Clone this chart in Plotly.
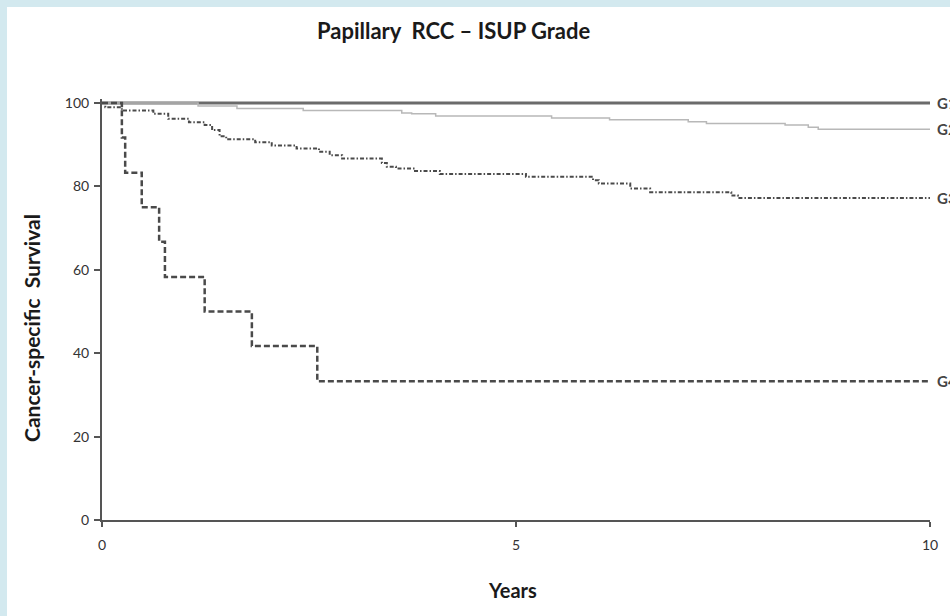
import plotly.graph_objects as go

# ---- data ----
g1_years = [0, 10]
g1_surv = [100, 100]

g2_years = [0, 1.16, 1.63, 2.43, 3.62, 3.74, 4.03, 5.43, 6.13, 7.08, 7.30, 8.25, 8.53, 8.65, 10]
g2_surv = [100, 99.3, 98.7, 98.2, 97.6, 97.4, 96.9, 96.4, 96.0, 95.5, 95.1, 94.7, 94.2, 93.7, 93.7]

g3_years = [0, 0.04, 0.24, 0.62, 0.80, 1.05, 1.24, 1.33, 1.42, 1.50, 1.85, 2.05, 2.35, 2.62,
            2.75, 2.90, 3.38, 3.44, 3.55, 3.78, 4.08, 5.12, 5.93, 6.00, 6.38, 6.62, 7.60, 7.68, 10]
g3_surv = [100, 99.0, 98.2, 97.4, 96.2, 95.4, 94.7, 93.5, 92.0, 91.3, 90.6, 89.8, 89.1, 88.3,
           87.5, 86.7, 85.6, 84.7, 84.3, 83.7, 83.0, 82.3, 81.5, 80.7, 79.5, 78.6, 77.8, 77.2, 77.2]

g4_years = [0, 0.24, 0.28, 0.48, 0.69, 0.76, 1.24, 1.81, 2.60, 10]
g4_surv = [100, 91.7, 83.3, 75.0, 66.7, 58.3, 50.0, 41.7, 33.3, 33.3]

group_labels = ["G1", "G2", "G3", "G4"]
x_ticks = [0, 5, 10]
y_ticks = [0, 20, 40, 60, 80, 100]

# ---- layout geometry (pixels) ----
W, H = 950, 616
L, R, T, B = 102, 20, 99, 96
PW, PH = W - L - R, H - T - B


def px_x(px):
    return (px - L) / PW


def px_y(py):
    return (H - B - py) / PH


FONT = "Lato"
fig = go.Figure()

series = [
    (g1_years, g1_surv, dict(color="#6b6b6b", width=3, dash="solid")),
    (g2_years, g2_surv, dict(color="#b8b8b8", width=1.5, dash="solid")),
    (g3_years, g3_surv, dict(color="#4a4a4a", width=2, dash="4px,2px,1.5px,2px")),
    (g4_years, g4_surv, dict(color="#4a4a4a", width=2.5, dash="6px,3px")),
]
for (xs, ys, ln), name in zip(series, group_labels):
    fig.add_trace(go.Scatter(x=xs, y=ys, mode="lines", line_shape="hv",
                             line=ln, name=name, showlegend=False, hoverinfo="skip"))
    fig.add_annotation(x=xs[-1], y=ys[-1], xref="x", yref="y", text="<b>" + name + "</b>",
                       showarrow=False, xanchor="left", yanchor="middle", xshift=5,
                       font=dict(family=FONT, size=15, color="#454545"))

# light blue frame on top and left
BAND = "#d3e9ef"
fig.add_shape(type="rect", xref="paper", yref="paper", layer="below",
              x0=px_x(0), x1=px_x(W), y0=px_y(0), y1=px_y(7),
              fillcolor=BAND, line=dict(width=0))
fig.add_shape(type="rect", xref="paper", yref="paper", layer="below",
              x0=px_x(0), x1=px_x(7), y0=px_y(0), y1=px_y(H),
              fillcolor=BAND, line=dict(width=0))

fig.add_annotation(x=px_x(454), y=px_y(31), xref="paper", yref="paper",
                   xanchor="center", yanchor="middle",
                   text="<b>Papillary  RCC – ISUP Grade</b>", showarrow=False,
                   font=dict(family=FONT, size=22, color="#1a1a1a"))
fig.add_annotation(x=px_x(512), y=px_y(590), xref="paper", yref="paper",
                   xanchor="center", yanchor="middle",
                   text="<b>Years</b>", showarrow=False,
                   font=dict(family=FONT, size=20, color="#1a1a1a"))
fig.add_annotation(x=px_x(31), y=px_y(328), xref="paper", yref="paper",
                   xanchor="center", yanchor="middle",
                   text="<b>Cancer-specific  Survival</b>", showarrow=False, textangle=-90,
                   font=dict(family=FONT, size=21, color="#1a1a1a"))

axis_common = dict(showgrid=False, zeroline=False, showline=True, linecolor="#555555",
                   linewidth=2, ticks="outside", tickcolor="#555555", tickwidth=1.5,
                   tickfont=dict(family=FONT, size=14, color="#333333"))

fig.update_layout(
    width=W, height=H,
    margin=dict(l=L, r=R, t=T, b=B),
    paper_bgcolor="white", plot_bgcolor="white",
    xaxis=dict(range=[0, 10], tickvals=x_ticks, ticklen=5, ticklabelstandoff=6,
               **axis_common),
    yaxis=dict(range=[0, PH / 4.17], tickvals=y_ticks, ticklen=6, ticklabelstandoff=2,
               **axis_common),
)

fig.write_html("out.html", config={"displayModeBar": False},
               post_script="document.body.style.margin='0px';")
